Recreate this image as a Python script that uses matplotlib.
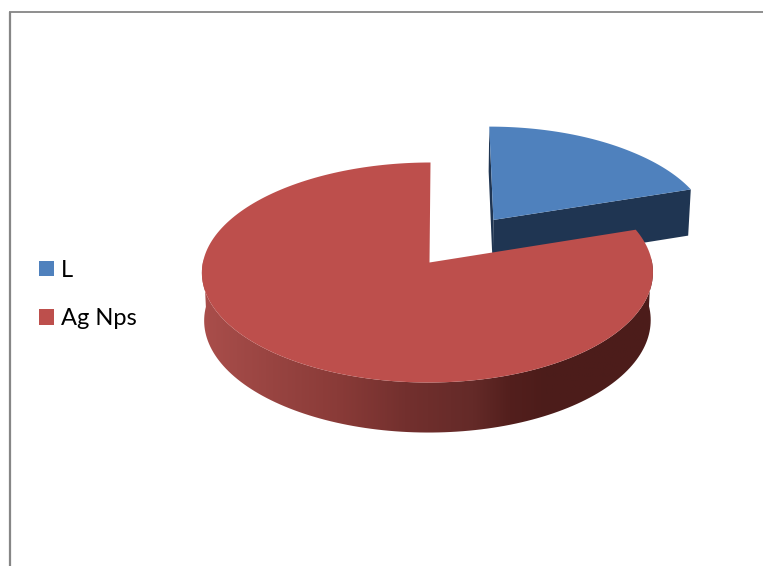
import numpy as np
import matplotlib
matplotlib.use("Agg")
import matplotlib.pyplot as plt
from matplotlib.colors import LinearSegmentedColormap
from matplotlib.patches import Patch, Polygon

labels = ["L", "Ag Nps"]
values = [20, 80]
top_colors = ["#4f81bd", "#bd4f4c"]

W, H = 763, 566
CX, CY = 427.5, 262.5  # pie centre on screen
RX, RY = 224.6, 109.1  # projected radii
PERSP = 1 / 11.0       # foreshortening towards the back
DEPTH = 47.7           # height of the pie
BOTTOM_SCALE = 0.99
EXPLODE = 0.5


def project(px, py, lower=False):
    # pie plane -> screen pixels, simple perspective
    w = 1 + PERSP * py
    # slight lean of the middle of the pie to the right
    x = CX + RX * px / w + 2 * np.clip(1 - np.square(px), 0, None) + py
    y = CY - RY * py / w
    if lower:
        x = CX + (x - CX) * BOTTOM_SCALE
        y = y + DEPTH / np.sqrt(w)
    return x, y


def wedge_plane(start, stop, off=0.0):
    # angles in degrees, clockwise from 12 o'clock
    mid = np.radians((start + stop) / 2)
    ox, oy = off * np.sin(mid), off * np.cos(mid)
    t = np.radians(np.linspace(start, stop, 200))
    return ox, oy, ox + np.sin(t), oy + np.cos(t)


def outline(ox, oy, ax_, ay_):
    sx, sy = project(np.r_[ox, ax_], np.r_[oy, ay_])
    return np.column_stack([sx, sy])


fig = plt.figure(figsize=(W / 100, H / 100), dpi=100)
ax = fig.add_axes([0, 0, 1, 1])
ax.set_xlim(0, W)
ax.set_ylim(H, 0)
ax.axis("off")

# frame, only top and left show
ax.plot([9.5, 9.5], [H, 11.5], color="#868686", lw=1.6, solid_capstyle="butt")
ax.plot([9, 762.5], [11.5, 11.5], color="#868686", lw=1.3, solid_capstyle="butt")

angles = np.cumsum([0] + values) / sum(values) * 360

# L slice, pulled out
ox, oy, ex, ey = wedge_plane(angles[0], angles[1], EXPLODE)
ap_t = project(ox, oy)
ap_b = project(ox, oy, True)
first_t = project(ex[0], ey[0])
first_b = project(ex[0], ey[0], True)
last_t = project(ex[-1], ey[-1])
last_b = project(ex[-1], ey[-1], True)
ax.add_patch(Polygon([ap_t, first_t, first_b, ap_b], color="#1f3552", lw=0, zorder=2))
ax.add_patch(Polygon([ap_t, last_t, last_b, ap_b], color="#1f3552", lw=0, zorder=2))
ax.add_patch(Polygon(outline(ox, oy, ex, ey), color=top_colors[0], lw=0, zorder=3))

# Ag Nps slice, the wall only needs the front part of the rim
ox, oy, ex, ey = wedge_plane(angles[1], angles[2])
ox, oy = 0.0, 0.0
front = ey < 0.05
wall_top = np.column_stack(project(ex[front], ey[front]))
wall_bot = np.column_stack(project(ex[front], ey[front], True))
wall_poly = Polygon(np.vstack([wall_top, wall_bot[::-1]]), transform=ax.transData,
                    facecolor="none", edgecolor="none")
ax.add_patch(wall_poly)

# side shading runs left to right across the wall
shade = LinearSegmentedColormap.from_list(
    "side",
    [(0.0, "#aa4e4b"), (0.16, "#984441"), (0.30, "#8a3b38"), (0.45, "#73302e"),
     (0.60, "#642a28"), (0.68, "#531f1d"), (0.76, "#4c1c1a"), (1.0, "#4c1d1b")],
)
grad = np.linspace(0, 1, 256).reshape(1, -1)
im = ax.imshow(grad, cmap=shade, extent=[200, 656, 440, 200], aspect="auto", zorder=4)
im.set_clip_path(wall_poly)
ax.set_xlim(0, W)
ax.set_ylim(H, 0)

ax.add_patch(Polygon(outline(ox, oy, ex, ey), color=top_colors[1], lw=0, zorder=5))

# legend
handles = [Patch(facecolor=c, edgecolor="none") for c in top_colors]
ax.legend(handles, labels, loc="center left", bbox_to_anchor=(39 / W, 1 - 294.5 / H),
          frameon=False, handlelength=0.635, handleheight=0.635,
          handletextpad=0.3, labelspacing=1.15, borderpad=0, borderaxespad=0,
          prop={"family": "Lato", "size": 17})

fig.savefig("out.png", dpi=100, facecolor="white")
